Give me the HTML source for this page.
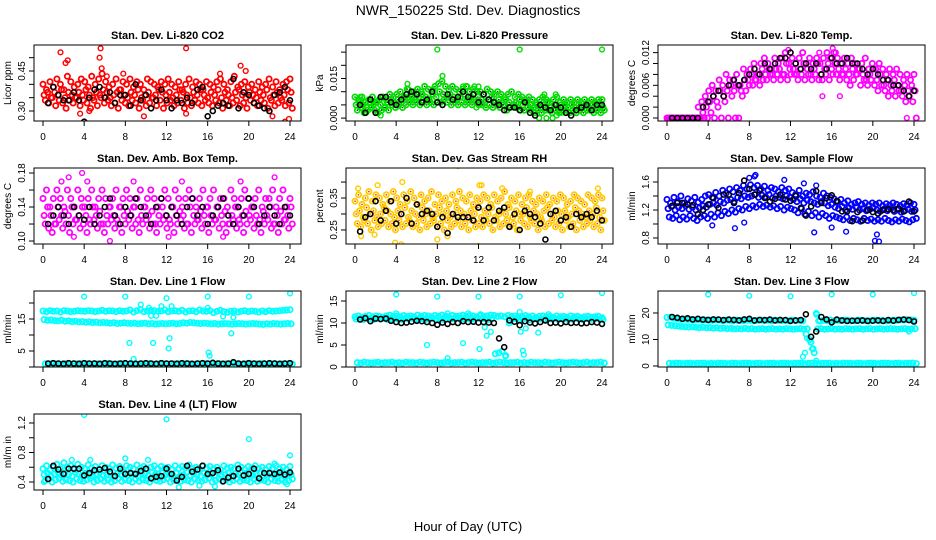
<!DOCTYPE html>
<html><head><meta charset="utf-8"><title>NWR_150225 Std. Dev. Diagnostics</title>
<style>
html,body{margin:0;padding:0;background:#fff;}
svg{display:block;font-family:"Liberation Sans",Arial,sans-serif;}
</style></head>
<body>
<svg id="chart" width="936" height="540" viewBox="0 0 936 540" xmlns="http://www.w3.org/2000/svg">
<rect x="0" y="0" width="936" height="540" fill="#fff"/>
<text x="468" y="15" text-anchor="middle" font-size="14">NWR_150225  Std. Dev. Diagnostics</text>
<text x="468" y="531" text-anchor="middle" font-size="13">Hour of Day (UTC)</text>
</svg>
<script>
// ---------- data ----------
const co2Upper=[0.40,0.38,0.41,0.39,0.42,0.40,0.38,0.43,0.41,0.39,0.40,0.42,0.41,0.39,0.43,0.40,0.42,0.44,0.41,0.39,0.40,0.42,0.38,0.41,0.40,0.42,0.39,0.41,0.40,0.38,0.42,0.41,0.40,0.39,0.41,0.40,0.42,0.40,0.39,0.41,0.38,0.40,0.42,0.39,0.41,0.40,0.38,0.41,0.40,0.39,0.41,0.42,0.40,0.38,0.41,0.43,0.39,0.40,0.41,0.39,0.40,0.38,0.41,0.39,0.40,0.42,0.39,0.41,0.38,0.40,0.41,0.42];
const co2Mid=[0.36,0.37,0.35,0.37,0.36,0.38,0.35,0.37,0.36,0.35,0.37,0.36,0.38,0.36,0.35,0.37,0.36,0.38,0.37,0.35,0.36,0.37,0.38,0.36,0.35,0.37,0.36,0.38,0.35,0.36,0.37,0.35,0.36,0.38,0.37,0.36,0.37,0.35,0.36,0.38,0.37,0.36,0.35,0.37,0.36,0.38,0.36,0.35,0.37,0.36,0.38,0.35,0.37,0.36,0.35,0.37,0.38,0.36,0.35,0.37,0.36,0.35,0.37,0.36,0.38,0.35,0.36,0.37,0.35,0.36,0.38,0.37];
const co2Low=[0.34,0.33,0.35,0.32,0.34,0.33,0.31,0.34,0.33,0.35,0.32,0.34,0.33,0.31,0.34,0.32,0.35,0.33,0.34,0.32,0.33,0.31,0.34,0.33,0.32,0.34,0.33,0.31,0.34,0.32,0.33,0.35,0.32,0.34,0.31,0.33,0.34,0.32,0.33,0.34,0.31,0.33,0.32,0.34,0.33,0.32,0.34,0.33,0.32,0.34,0.33,0.31,0.34,0.32,0.33,0.34,0.32,0.33,0.31,0.34,0.33,0.32,0.34,0.33,0.31,0.34,0.32,0.33,0.34,0.32,0.33,0.31];
const co2OutHours=[1.7,2.2,2.4,5.6,5.5,5.7,13.9,19.2,19.7,3.6,9.8,13.9,22.3,23.5,23.9,4.5,6.2,7.8,17.2];
const co2OutValues=[0.52,0.48,0.49,0.535,0.50,0.46,0.535,0.47,0.45,0.29,0.28,0.29,0.28,0.26,0.27,0.30,0.43,0.44,0.44];
const co2Black=[0.33,0.39,0.36,0.34,0.34,0.37,0.34,0.26,0.35,0.38,0.39,0.35,0.37,0.33,0.36,0.36,0.32,0.40,0.34,0.36,0.31,0.34,0.38,0.34,0.31,0.34,0.33,0.35,0.33,0.38,0.39,0.28,0.30,0.32,0.33,0.32,0.42,0.31,0.37,0.36,0.33,0.32,0.31,0.30,0.36,0.37,0.39,0.34];

const presUpper=[.008,.007,.008,.006,.007,.008,.006,.007,.008,.007,.009,.008,.009,.010,.008,.011,.009,.010,.011,.010,.012,.011,.010,.012,.013,.014,.012,.011,.012,.011,.010,.011,.012,.010,.011,.010,.010,.009,.011,.010,.009,.010,.009,.008,.009,.010,.008,.009,.008,.007,.008,.007,.006,.007,.008,.007,.006,.007,.008,.006,.007,.006,.007,.006,.007,.006,.007,.006,.007,.006,.007,.007];
const presMid=[.005,.006,.005,.004,.006,.005,.006,.005,.004,.006,.007,.006,.007,.006,.008,.007,.008,.007,.008,.009,.008,.007,.009,.008,.010,.009,.008,.009,.008,.007,.008,.009,.007,.008,.007,.008,.007,.006,.007,.008,.006,.007,.006,.007,.006,.005,.006,.007,.005,.006,.005,.004,.005,.004,.005,.006,.004,.005,.004,.005,.005,.004,.005,.004,.005,.004,.005,.004,.005,.004,.005,.004];
const presLow=[.003,.004,.002,.003,.004,.003,.002,.003,.004,.003,.005,.004,.005,.004,.005,.006,.005,.006,.005,.006,.005,.006,.005,.006,.006,.007,.006,.005,.006,.005,.006,.005,.006,.005,.006,.005,.005,.004,.005,.004,.005,.004,.005,.003,.004,.005,.004,.003,.003,.004,.003,.002,.003,.002,.003,.003,.002,.003,.002,.003,.003,.002,.003,.002,.003,.002,.003,.003,.002,.003,.002,.003];
const presOutHours=[8.0,16.0,24,5.1,5.2,7.6,8.5,10.5,10.9,11.6,12.0,0.5,2.5,1.1,17.9,18.6,19.2,19.6,20.1,18.4,19.5,11.8,15.6];
const presOutValues=[.026,.026,.026,.013,.011,.011,.016,.012,.012,.012,.012,.008,.001,.002,.000,.000,.000,.001,.002,.009,.009,.004,.004];
const presBlack=[.005,.002,.007,.002,.008,.008,.006,.005,.007,.009,.010,.009,.006,.007,.010,.006,.005,.009,.007,.008,.010,.008,.009,.006,.009,.007,.006,.005,.003,.004,.004,.003,.006,.002,.001,.005,.004,.003,.005,.004,.002,.001,.003,.004,.005,.003,.005,.005];

const tempUpper=[0,0,0,0,0,0,0,0,0,.002,.003,.004,.005,.006,.005,.007,.006,.008,.007,.007,.008,.006,.009,.008,.009,.010,.008,.010,.011,.010,.009,.011,.010,.011,.012,.010,.011,.010,.011,.012,.010,.011,.010,.011,.010,.011,.012,.011,.012,.011,.010,.011,.010,.011,.010,.009,.010,.011,.009,.010,.009,.010,.009,.008,.009,.008,.009,.008,.007,.008,.007,.008];
const tempMid=[0,0,0,0,0,0,0,0,0,0,.001,.002,.003,.004,.003,.005,.004,.005,.006,.005,.006,.005,.007,.007,.008,.007,.008,.009,.008,.009,.008,.009,.009,.008,.010,.009,.009,.008,.009,.010,.009,.008,.009,.010,.008,.009,.010,.009,.010,.009,.008,.009,.008,.009,.008,.009,.008,.007,.008,.009,.007,.008,.006,.007,.006,.007,.006,.005,.006,.005,.006,.005];
const tempLow=[0,0,0,0,0,0,0,0,0,0,0,0,.001,0,.002,0,.003,0,.004,0,0,.004,.005,.006,.006,.007,.006,.007,.007,.008,.007,.008,.007,.008,.007,.008,.008,.007,.008,.007,.008,.007,.008,.007,.007,.008,.007,.008,.008,.007,.008,.007,.006,.007,.008,.006,.007,.006,.007,.006,.005,.006,.005,.004,.005,.004,.005,.004,.003,.004,.003,0];
const tempOutHours=[11.8,16.1,16.4,14.8,23.3,16.8,15.1,4.4];
const tempOutValues=[.0125,.0128,.012,.012,.0,.004,.004,.006];
const tempBlack=[0,0,0,0,0,0,.002,.003,.004,.005,.004,.006,.007,.006,.007,.008,.009,.008,.010,.009,.010,.011,.011,.012,.010,.009,.010,.009,.010,.008,.009,.011,.010,.010,.011,.010,.010,.009,.008,.009,.008,.007,.007,.006,.006,.005,.004,.005];

const ambUpper=[.15,.16,.14,.15,.16,.15,.14,.16,.15,.14,.16,.15,.14,.15,.16,.14,.15,.16,.15,.14,.15,.16,.14,.15,.16,.15,.14,.15,.16,.14,.15,.16,.15,.14,.15,.16,.15,.14,.16,.15,.14,.15,.16,.15,.14,.15,.16,.14,.15,.16,.14,.15,.15,.14,.16,.15,.14,.15,.16,.15,.14,.15,.16,.14,.15,.15,.16,.14,.15,.16,.14,.15];
const ambMid=[.13,.14,.13,.12,.14,.13,.135,.13,.14,.125,.13,.14,.13,.125,.14,.13,.135,.12,.13,.14,.13,.125,.14,.13,.135,.13,.14,.125,.13,.14,.13,.135,.12,.13,.14,.13,.125,.14,.13,.135,.13,.12,.14,.13,.125,.135,.13,.14,.13,.125,.14,.13,.135,.12,.13,.14,.125,.13,.135,.13,.14,.13,.125,.135,.13,.14,.12,.13,.135,.125,.13,.14];
const ambLow=[.12,.115,.11,.12,.125,.115,.12,.11,.12,.125,.115,.12,.11,.12,.125,.115,.12,.11,.12,.125,.115,.12,.11,.12,.125,.115,.12,.11,.12,.125,.115,.12,.11,.12,.125,.115,.12,.11,.12,.125,.115,.12,.11,.12,.125,.115,.12,.11,.12,.125,.115,.12,.11,.12,.125,.115,.12,.11,.12,.125,.115,.12,.11,.12,.125,.115,.12,.11,.12,.125,.115,.12];
const ambOutHours=[1.8,2.5,3.8,4.3,8.8,6.5,13.5,22.5,19.2,12.2,3.0,17.5];
const ambOutValues=[.17,.175,.18,.17,.17,.10,.17,.175,.17,.105,.105,.105];
const ambBlack=[.12,.13,.14,.13,.12,.14,.13,.125,.14,.12,.13,.14,.15,.13,.12,.14,.13,.15,.14,.13,.12,.14,.15,.13,.14,.13,.12,.14,.15,.13,.14,.12,.13,.14,.15,.13,.12,.14,.13,.15,.14,.12,.13,.14,.13,.12,.14,.13];

const rhUpper=[.34,.36,.33,.35,.37,.34,.36,.35,.33,.36,.34,.37,.35,.33,.36,.34,.37,.35,.33,.36,.34,.35,.37,.33,.36,.34,.35,.33,.36,.34,.37,.35,.34,.36,.33,.35,.34,.36,.35,.33,.36,.34,.35,.37,.33,.35,.34,.36,.33,.35,.36,.34,.33,.35,.34,.36,.33,.35,.34,.36,.35,.33,.34,.36,.35,.34,.33,.36,.35,.34,.36,.35];
const rhMid=[.30,.31,.29,.32,.30,.31,.29,.30,.32,.31,.30,.29,.31,.30,.32,.29,.31,.30,.29,.32,.30,.31,.29,.30,.32,.30,.31,.29,.30,.32,.31,.30,.29,.31,.30,.32,.29,.31,.30,.32,.29,.30,.31,.30,.32,.29,.31,.30,.30,.32,.29,.31,.30,.29,.31,.32,.30,.29,.31,.30,.31,.29,.30,.32,.31,.30,.29,.31,.30,.32,.29,.31];
const rhLow=[.27,.26,.28,.27,.25,.28,.26,.27,.28,.26,.27,.25,.28,.26,.27,.28,.26,.27,.25,.28,.26,.27,.28,.26,.27,.25,.28,.26,.27,.28,.26,.27,.25,.28,.26,.27,.26,.28,.27,.25,.28,.26,.27,.28,.26,.27,.25,.28,.27,.26,.28,.27,.25,.28,.26,.27,.28,.26,.27,.25,.28,.26,.27,.25,.28,.26,.27,.28,.26,.27,.25,.28];
const rhOutHours=[10.0,12.0,3.9,4.5,0.3,2.2,4.6,8.0,9.0,12.1,12.3,14.3,17.0,23.6,0.6,1.9];
const rhOutValues=[.45,.20,.21,.205,.38,.39,.40,.22,.23,.39,.39,.38,.37,.38,.23,.235];
const rhBlack=[.245,.29,.30,.34,.28,.31,.34,.27,.30,.35,.27,.33,.30,.31,.30,.26,.29,.24,.30,.29,.29,.29,.28,.32,.28,.32,.28,.31,.32,.26,.30,.25,.31,.30,.29,.27,.22,.30,.31,.28,.29,.26,.30,.29,.30,.29,.31,.28];

const flowUpper=[1.35,1.30,1.38,1.32,1.40,1.30,1.36,1.33,1.38,1.31,1.35,1.40,1.42,1.38,1.45,1.40,1.48,1.44,1.50,1.46,1.52,1.48,1.55,1.50,1.56,1.52,1.55,1.50,1.54,1.48,1.52,1.50,1.46,1.52,1.48,1.50,1.45,1.42,1.48,1.40,1.44,1.42,1.46,1.40,1.38,1.44,1.40,1.38,1.36,1.32,1.35,1.30,1.33,1.28,1.30,1.32,1.28,1.30,1.27,1.30,1.28,1.30,1.26,1.29,1.27,1.30,1.28,1.26,1.29,1.27,1.30,1.28];
const flowMid=[1.22,1.25,1.20,1.24,1.22,1.26,1.21,1.24,1.20,1.23,1.26,1.24,1.28,1.30,1.27,1.32,1.30,1.34,1.35,1.32,1.38,1.36,1.40,1.38,1.40,1.42,1.38,1.41,1.39,1.42,1.37,1.40,1.38,1.36,1.40,1.38,1.35,1.32,1.36,1.30,1.34,1.32,1.30,1.28,1.32,1.30,1.26,1.28,1.24,1.22,1.25,1.20,1.23,1.21,1.24,1.20,1.22,1.19,1.21,1.23,1.20,1.18,1.21,1.19,1.22,1.18,1.20,1.17,1.19,1.21,1.18,1.20];
const flowLow=[1.10,1.08,1.12,1.06,1.10,1.07,1.12,1.08,1.05,1.10,1.12,1.08,1.14,1.10,1.16,1.12,1.18,1.15,1.20,1.17,1.22,1.20,1.25,1.22,1.26,1.24,1.28,1.25,1.27,1.24,1.26,1.22,1.25,1.20,1.24,1.22,1.20,1.16,1.22,1.14,1.18,1.12,1.16,1.10,1.15,1.12,1.08,1.12,1.10,1.08,1.06,1.10,1.05,1.08,1.06,1.04,1.08,1.05,1.07,1.04,1.06,1.04,1.08,1.05,1.03,1.06,1.04,1.07,1.05,1.03,1.06,1.08];
const flowOutHours=[8.0,8.5,8.6,11.4,7.5,4.4,6.6,14.3,16.0,17.4,20.2,20.6,20.4,14.5,13.3];
const flowOutValues=[1.66,1.68,1.70,1.63,1.02,0.98,0.94,0.88,0.95,0.89,0.76,0.75,0.85,1.55,1.58];
const flowBlack=[1.26,1.30,1.30,1.28,1.27,1.14,1.20,1.28,1.37,1.23,1.42,1.42,1.30,1.44,1.62,1.50,1.42,1.48,1.37,1.32,1.36,1.42,1.35,1.33,1.40,1.23,1.12,1.25,1.47,1.30,1.37,1.41,1.33,1.18,1.18,1.04,1.17,1.05,1.20,1.17,1.15,1.20,1.21,1.20,1.22,1.18,1.32,1.18];

const line1Upper=[17.5,17.3,17.6,17.4,17.5,17.2,17.6,17.5,17.3,17.4,17.6,17.5,17.4,17.6,17.5,17.3,17.5,17.7,17.4,17.6,17.5,17.3,17.6,17.4,17.5,17.8,17.2,17.6,17.9,17.3,17.5,17.7,17.6,17.4,17.5,17.8,17.3,17.5,17.6,17.4,17.7,17.2,17.5,17.6,17.3,17.8,17.5,17.4,17.6,17.0,17.4,17.7,17.3,17.1,17.4,17.5,17.2,17.4,17.6,17.3,17.5,17.4,17.2,17.5,17.3,17.6,17.4,17.5,17.6,17.7,17.8,17.9];
const line1Mid=[14.8,14.6,14.7,14.5,14.4,14.6,14.3,14.4,14.2,14.3,14.1,14.2,14.0,14.1,13.9,14.0,13.8,13.9,13.8,13.7,13.8,13.6,13.7,13.8,13.7,13.6,13.7,13.5,13.6,13.7,13.5,13.6,13.4,13.5,13.6,13.5,13.6,13.7,13.5,13.6,13.8,13.7,13.9,13.8,13.7,13.6,13.7,13.6,13.5,13.6,13.4,13.5,13.6,13.5,13.4,13.5,13.6,13.5,13.4,13.5,13.6,13.5,13.4,13.3,13.5,13.4,13.6,13.5,13.4,13.5,13.6,13.5];
const line1Low=[1.0,0.9,1.1,1.0,0.9,1.0,1.1,0.9,1.0,1.0,1.1,0.9,1.0,0.9,1.1,1.0,1.0,0.9,1.1,1.0,0.9,1.0,1.1,1.0,0.9,1.0,1.1,0.9,1.0,1.0,1.1,0.9,1.0,1.1,1.0,0.9,1.0,1.0,1.1,0.9,1.0,1.1,1.0,0.9,1.0,1.0,1.1,0.9,1.0,0.9,1.1,1.0,1.0,0.9,1.1,1.0,0.9,1.0,1.1,1.0,0.9,1.0,1.1,1.0,0.9,1.0,1.1,0.9,1.0,1.0,1.1,0.9];
const line1OutHours=[4,8,12,16,20,24,9.5,10.3,11.5,12.5,10.5,11,16.0,17.5,18.5,8.4,10.7,12.3,12.2,16.1,16.2,8.8,18.3];
const line1OutValues=[22,22,21.5,22,22,23,19.5,18.5,19,19,16,16,18.5,15.8,15.5,7.5,7.5,9,5.8,4.5,3.5,2.5,10.5];
const line1Black=[1.1,1.2,1.1,1.0,1.2,1.1,1.0,1.2,1.1,1.1,1.0,1.2,1.1,1.0,1.1,1.2,1.1,1.0,1.1,1.2,1.1,1.0,1.2,1.1,1.1,1.0,1.2,1.1,1.0,1.1,1.2,1.1,1.3,1.1,1.0,1.1,1.5,1.1,1.0,1.2,1.1,1.0,1.1,1.2,1.1,1.0,1.1,1.2];

const line2Upper=[11.4,11.6,11.3,11.5,11.7,11.4,11.6,11.5,11.3,11.6,11.8,11.5,11.6,11.4,11.7,11.5,11.6,11.4,11.8,11.5,11.7,11.6,11.4,11.7,11.5,11.8,11.6,11.4,11.7,11.5,11.6,11.8,11.5,11.7,11.6,11.4,11.7,11.5,11.6,11.8,11.7,11.5,11.6,11.4,11.7,11.5,11.6,11.4,11.5,11.7,11.4,11.6,11.3,11.5,11.6,11.4,11.5,11.3,11.6,11.4,11.5,11.3,11.6,11.4,11.5,11.2,11.4,11.5,11.3,11.4,11.5,11.2];
const line2Mid=[10.9,11.0,10.8,11.1,10.9,10.8,11.0,10.9,11.1,10.8,10.9,11.0,10.9,10.8,11.0,10.9,11.1,10.8,10.9,11.0,10.8,10.9,11.1,10.9,11.0,10.8,10.9,11.0,10.9,11.1,10.8,10.9,11.0,10.8,10.9,11.1,10.9,11.0,10.8,10.9,3.0,3.2,3.6,2.6,10.0,10.9,11.0,10.8,10.9,11.1,10.8,10.9,11.0,10.9,10.8,11.0,10.9,11.1,10.8,10.9,11.0,10.8,10.9,11.0,10.9,10.8,11.0,10.9,10.8,11.0,10.9,10.8];
const line2Low=[1.0,0.9,1.1,1.0,0.9,1.0,1.1,0.9,1.0,1.0,1.1,0.9,1.0,0.9,1.1,1.0,1.0,0.9,1.1,1.0,0.9,1.0,1.1,1.0,0.9,1.0,1.1,0.9,1.0,1.0,1.1,0.9,1.0,1.1,1.0,0.9,1.0,1.0,1.1,0.9,1.0,1.1,1.0,0.9,1.0,1.0,1.1,0.9,1.0,0.9,1.1,1.0,1.0,0.9,1.1,1.0,0.9,1.0,1.1,1.0,0.9,1.0,1.1,1.0,0.9,1.0,1.1,0.9,1.0,1.0,1.1,0.9];
const line2OutHours=[4,8,12,16,20,24,4,9.0,11,12.2,16,18.8,7,9,10.5,12.1,12.8,12.6,13.2,16.1,16.6,16.3,16.4,14.6,17.8];
const line2OutValues=[16.5,16,16,16,16.3,16.8,12.2,12.2,12.2,12,12.5,12,5,2,5.4,4.1,7.1,9,8,8,8.8,3.7,2.8,2.4,7.8];
const line2Black=[10.8,11.1,10.4,11.0,10.9,11.0,10.5,10.2,10.0,10.1,10.3,10.5,10.4,10.2,10.0,9.6,10.1,9.8,10.2,10.0,10.4,10.2,10.3,10.1,10.2,10.1,10.0,6.5,4.5,10.6,10.3,9.5,10.4,10.1,9.9,10.2,10.6,10.0,10.1,9.9,10.2,10.0,10.1,9.9,10.0,10.2,10.1,9.8];

const line3Upper=[18.3,18.4,18.0,17.8,17.6,17.7,17.5,17.6,17.4,17.5,17.3,17.4,17.3,17.2,17.4,17.3,17.1,17.3,17.2,17.0,17.3,17.2,17.1,17.3,17.2,17.0,17.2,17.3,17.1,17.2,17.0,17.3,17.2,17.1,17.2,17.0,17.3,17.1,17.2,17.0,12.0,10.0,6.5,19.5,17.0,17.2,17.1,17.3,17.0,17.2,17.1,17.3,17.2,17.0,17.1,17.3,17.2,17.1,17.0,17.2,17.3,17.1,17.2,17.0,17.1,17.3,17.2,17.4,17.3,17.5,17.4,17.3];
const line3Mid=[15.5,15.3,15.2,15.0,14.9,14.8,14.7,14.8,14.6,14.5,14.6,14.4,14.5,14.3,14.4,14.2,14.3,14.1,14.2,14.0,14.1,14.0,14.2,14.0,14.1,13.9,14.0,14.1,13.9,14.0,14.1,13.9,14.0,13.9,14.1,14.0,13.9,14.0,14.1,13.9,14.0,9.0,5.0,14.0,14.1,13.9,14.0,14.1,13.9,14.0,13.9,14.1,14.0,13.9,14.0,14.1,13.9,14.0,14.1,13.9,14.0,14.1,13.9,14.0,14.1,14.0,13.9,14.0,14.1,13.9,14.0,14.1];
const line3Low=[1.0,0.9,1.1,1.0,0.9,1.0,1.1,0.9,1.0,1.0,1.1,0.9,1.0,0.9,1.1,1.0,1.0,0.9,1.1,1.0,0.9,1.0,1.1,1.0,0.9,1.0,1.1,0.9,1.0,1.0,1.1,0.9,1.0,1.1,1.0,0.9,1.0,1.0,1.1,0.9,1.0,1.1,1.0,0.9,1.0,1.0,1.1,0.9,1.0,0.9,1.1,1.0,1.0,0.9,1.1,1.0,0.9,1.0,1.1,1.0,0.9,1.0,1.1,1.0,0.9,1.0,1.1,0.9,1.0,1.0,1.1,0.9];
const line3OutHours=[4,8,12,16,20,24,13.2,13.4,13.6,14.0,14.1,14.5,14.5,14.7,23.5];
const line3OutValues=[27,26.5,26.3,27,27,27.5,3.5,5,10.5,9,6.5,2,20,17,13];
const line3Black=[18.5,18.2,17.8,18.0,17.6,17.8,17.5,17.4,17.6,17.5,17.3,17.5,17.4,17.2,17.6,17.8,17.2,17.4,17.3,17.5,17.2,17.4,17.3,17.0,17.2,17.3,19.5,11.0,13.0,18.5,17.6,16.5,17.5,17.2,17.0,17.1,17.1,17.2,17.0,17.1,17.2,17.0,17.3,17.1,17.4,17.5,17.3,16.8];

const line4Upper=[0.58,0.62,0.56,0.60,0.64,0.58,0.66,0.60,0.62,0.57,0.64,0.60,0.58,0.63,0.59,0.61,0.57,0.62,0.60,0.58,0.63,0.59,0.61,0.57,0.62,0.60,0.58,0.63,0.59,0.61,0.57,0.60,0.62,0.58,0.61,0.59,0.60,0.57,0.62,0.58,0.61,0.59,0.63,0.58,0.60,0.57,0.62,0.59,0.61,0.58,0.60,0.57,0.62,0.59,0.60,0.58,0.63,0.60,0.57,0.61,0.59,0.62,0.58,0.60,0.57,0.61,0.59,0.62,0.58,0.60,0.57,0.61];
const line4Mid=[0.50,0.52,0.48,0.51,0.53,0.49,0.52,0.50,0.48,0.53,0.51,0.49,0.52,0.50,0.48,0.51,0.53,0.49,0.50,0.52,0.48,0.51,0.50,0.53,0.49,0.51,0.50,0.48,0.52,0.51,0.49,0.53,0.50,0.48,0.52,0.50,0.51,0.49,0.52,0.48,0.50,0.53,0.49,0.51,0.50,0.48,0.52,0.50,0.51,0.49,0.53,0.48,0.50,0.52,0.49,0.51,0.50,0.48,0.52,0.50,0.49,0.51,0.53,0.48,0.50,0.52,0.49,0.51,0.50,0.48,0.52,0.50];
const line4Low=[0.42,0.44,0.40,0.43,0.45,0.41,0.43,0.42,0.40,0.44,0.42,0.41,0.43,0.45,0.40,0.42,0.44,0.41,0.43,0.40,0.42,0.45,0.41,0.43,0.42,0.40,0.44,0.41,0.43,0.42,0.40,0.44,0.42,0.41,0.43,0.45,0.40,0.42,0.44,0.41,0.43,0.42,0.40,0.44,0.42,0.41,0.43,0.45,0.40,0.42,0.44,0.41,0.43,0.40,0.42,0.44,0.41,0.43,0.42,0.40,0.44,0.41,0.43,0.42,0.40,0.44,0.42,0.41,0.43,0.40,0.42,0.44];
const line4OutHours=[4,12,20,24,10.2,8,2.8,4.6,22.5,13.2,15.2,16.7,23.7,0.1];
const line4OutValues=[1.31,1.25,0.98,0.76,0.70,0.72,0.70,0.70,0.65,0.33,0.35,0.34,0.37,0.40];
const line4Black=[0.44,0.62,0.57,0.51,0.58,0.58,0.58,0.49,0.52,0.56,0.57,0.59,0.54,0.48,0.58,0.51,0.52,0.51,0.55,0.58,0.45,0.47,0.48,0.58,0.51,0.42,0.47,0.62,0.54,0.57,0.62,0.51,0.52,0.56,0.41,0.46,0.48,0.58,0.49,0.51,0.58,0.45,0.52,0.52,0.51,0.53,0.50,0.53];

const xTickHours=[0,4,8,12,16,20,24];
const xTickLabels=["0","4","8","12","16","20","24"];

const co2Ticks=[0.30,0.35,0.40,0.45,0.50];           const co2TickLabels=["0.30","","","0.45",""];
const presTicks=[0,0.005,0.010,0.015,0.020,0.025];   const presTickLabels=["0.000","","","0.015","",""];
const tempTicks=[0,0.002,0.004,0.006,0.008,0.010,0.012]; const tempTickLabels=["0.000","","","0.006","","","0.012"];
const ambTicks=[0.10,0.12,0.14,0.16,0.18];           const ambTickLabels=["0.10","","0.14","","0.18"];
const rhTicks=[0.25,0.30,0.35,0.40];                 const rhTickLabels=["0.25","","0.35",""];
const flowTicks=[0.8,1.0,1.2,1.4,1.6];               const flowTickLabels=["0.8","","1.2","","1.6"];
const line1Ticks=[0,5,10,15,20];                     const line1TickLabels=["","5","","15",""];
const line2Ticks=[0,5,10,15];                        const line2TickLabels=["0","5","10","15"];
const line3Ticks=[0,10,20];                          const line3TickLabels=["0","10","20"];
const line4Ticks=[0.4,0.6,0.8,1.0,1.2];              const line4TickLabels=["0.4","","0.8","","1.2"];

// ---------- layout ----------
const NS="http://www.w3.org/2000/svg";
const svg=document.getElementById('chart');
const colLeft=[34,346,658], boxW=267, rowTop=[45,168,291,414], boxH=76;
const rowShift=[0,0.11,0.22];
const panels=[
 {key:'co2',title:'Stan. Dev. Li-820 CO2',ylab:'Licor ppm',col:0,row:0,dom:[0.2625,0.5475],color:'#ff0000',rows:[co2Upper,co2Mid,co2Low],oh:co2OutHours,ov:co2OutValues,k:co2Black,ticks:co2Ticks,tl:co2TickLabels},
 {key:'pressure',title:'Stan. Dev. Li-820 Pressure',ylab:'kPa',col:1,row:0,dom:[-0.0011,0.0277],color:'#00e000',dots:'#004400',rows:[presUpper,presMid,presLow],oh:presOutHours,ov:presOutValues,k:presBlack,ticks:presTicks,tl:presTickLabels},
 {key:'temp',title:'Stan. Dev. Li-820 Temp.',ylab:'degrees C',col:2,row:0,dom:[-0.00055,0.0134],color:'#ff00ff',rows:[tempUpper,tempMid,tempLow],oh:tempOutHours,ov:tempOutValues,k:tempBlack,ticks:tempTicks,tl:tempTickLabels},
 {key:'amb-box-temp',title:'Stan. Dev. Amb. Box Temp.',ylab:'degrees C',col:0,row:1,dom:[0.0965,0.1859],color:'#ff00ff',rows:[ambUpper,ambMid,ambLow],oh:ambOutHours,ov:ambOutValues,k:ambBlack,ticks:ambTicks,tl:ambTickLabels},
 {key:'gas-stream-rh',title:'Stan. Dev. Gas Stream RH',ylab:'percent',col:1,row:1,dom:[0.206,0.444],color:'#ffcc00',dots:'#ff2000',rows:[rhUpper,rhMid,rhLow],oh:rhOutHours,ov:rhOutValues,k:rhBlack,ticks:rhTicks,tl:rhTickLabels},
 {key:'sample-flow',title:'Stan. Dev. Sample Flow',ylab:'ml/min',col:2,row:1,dom:[0.714,1.80],color:'#0000ff',rows:[flowUpper,flowMid,flowLow],oh:flowOutHours,ov:flowOutValues,k:flowBlack,ticks:flowTicks,tl:flowTickLabels},
 {key:'line1-flow',title:'Stan. Dev. Line 1 Flow',ylab:'ml/min',col:0,row:2,dom:[0,23.75],color:'#00ffff',rows:[line1Upper,line1Mid,line1Low],oh:line1OutHours,ov:line1OutValues,k:line1Black,ticks:line1Ticks,tl:line1TickLabels},
 {key:'line2-flow',title:'Stan. Dev. Line 2 Flow',ylab:'ml/min',col:1,row:2,dom:[0,17.27],color:'#00ffff',rows:[line2Upper,line2Mid,line2Low],oh:line2OutHours,ov:line2OutValues,k:line2Black,ticks:line2Ticks,tl:line2TickLabels},
 {key:'line3-flow',title:'Stan. Dev. Line 3 Flow',ylab:'ml/min',col:2,row:2,dom:[-0.38,28.3],color:'#00ffff',rows:[line3Upper,line3Mid,line3Low],oh:line3OutHours,ov:line3OutValues,k:line3Black,ticks:line3Ticks,tl:line3TickLabels},
 {key:'line4-flow',title:'Stan. Dev. Line 4 (LT) Flow',ylab:'ml/m in',col:0,row:3,dom:[0.2915,1.322],color:'#00ffff',rows:[line4Upper,line4Mid,line4Low],oh:line4OutHours,ov:line4OutValues,k:line4Black,ticks:line4Ticks,tl:line4TickLabels}
];

function mk(tag,attrs,parent){const e=document.createElementNS(NS,tag);for(const a in attrs)e.setAttribute(a,attrs[a]);parent.appendChild(e);return e;}

panels.forEach(p=>{
  const L=colLeft[p.col], T=rowTop[p.row], B=T+boxH;
  const xs=h=>L+9+h*247/24;
  const ys=v=>B-(v-p.dom[0])/(p.dom[1]-p.dom[0])*boxH;
  const g=mk('g',{},svg);
  
  
  const clip=mk('clipPath',{id:'clip-'+p.key},g);
  mk('rect',{x:L,y:T,width:boxW,height:boxH},clip);
  const t=mk('text',{x:L+boxW/2,y:T-6,'text-anchor':'middle','font-size':'11','font-weight':'bold'},g);
  t.textContent=p.title;
  
  
  const pts=mk('g',{'clip-path':'url(#clip-'+p.key+')',fill:'none','stroke-width':'1.8'},g);
  
  
  p.rows.forEach((arr,ri)=>{
    arr.forEach((v,i)=>{
      const h=i*24/(arr.length-1)+rowShift[ri];
      const c=mk('circle',{cx:xs(h).toFixed(1),cy:ys(v).toFixed(1),r:2.6,stroke:p.color},pts);
      
      
      if(p.dots){mk('circle',{cx:xs(h).toFixed(1),cy:ys(v).toFixed(1),r:0.8,fill:p.dots,stroke:'none'},pts);}
    });
  });
  p.oh.forEach((h,i)=>{
    const c=mk('circle',{cx:xs(h).toFixed(1),cy:ys(p.ov[i]).toFixed(1),r:2.4,stroke:p.color,'stroke-width':'1.4'},pts);
    
    
  });
  p.k.forEach((v,i)=>{
    const h=(i+1)*24/p.k.length;
    const c=mk('circle',{cx:xs(h).toFixed(1),cy:ys(v).toFixed(1),r:2.5,stroke:'#000','stroke-width':'1.6'},pts);
    
    
  });
  const box=mk('rect',{x:L,y:T,width:boxW,height:boxH,fill:'none',stroke:'#000','stroke-width':'1'},g);
  
  
  const xa=mk('g',{stroke:'#000','stroke-width':'1'},g);
  
  
  mk('line',{x1:xs(0),y1:B,x2:xs(24),y2:B},xa);
  xTickHours.forEach((h,i)=>{
    mk('line',{x1:xs(h),y1:B,x2:xs(h),y2:B+5},xa);
    const tl=mk('text',{x:xs(h),y:B+19,'text-anchor':'middle','font-size':'10',stroke:'none',fill:'#000'},xa);
    tl.textContent=xTickLabels[i];
  });
  const ya=mk('g',{stroke:'#000','stroke-width':'1'},g);
  
  
  const tv=p.ticks.filter(v=>ys(v)>=T-4&&ys(v)<=B+1);
  mk('line',{x1:L,y1:ys(tv[0]),x2:L,y2:ys(tv[tv.length-1])},ya);
  p.ticks.forEach((v,i)=>{
    const y=ys(v); if(y<T-4||y>B+1)return;
    mk('line',{x1:L-5,y1:y,x2:L,y2:y},ya);
    if(p.tl[i]){
      const tl=mk('text',{x:L-9,y:y,'text-anchor':'middle','font-size':'10',stroke:'none',fill:'#000',transform:'rotate(-90 '+(L-9)+' '+y+')'},ya);
      tl.textContent=p.tl[i];
    }
  });
  const yl=mk('text',{x:L-23,y:T+boxH/2,'text-anchor':'middle','font-size':'10',transform:'rotate(-90 '+(L-23)+' '+(T+boxH/2)+')'},g);
  yl.textContent=p.ylab;
  
  
});
</script>
</body></html>
